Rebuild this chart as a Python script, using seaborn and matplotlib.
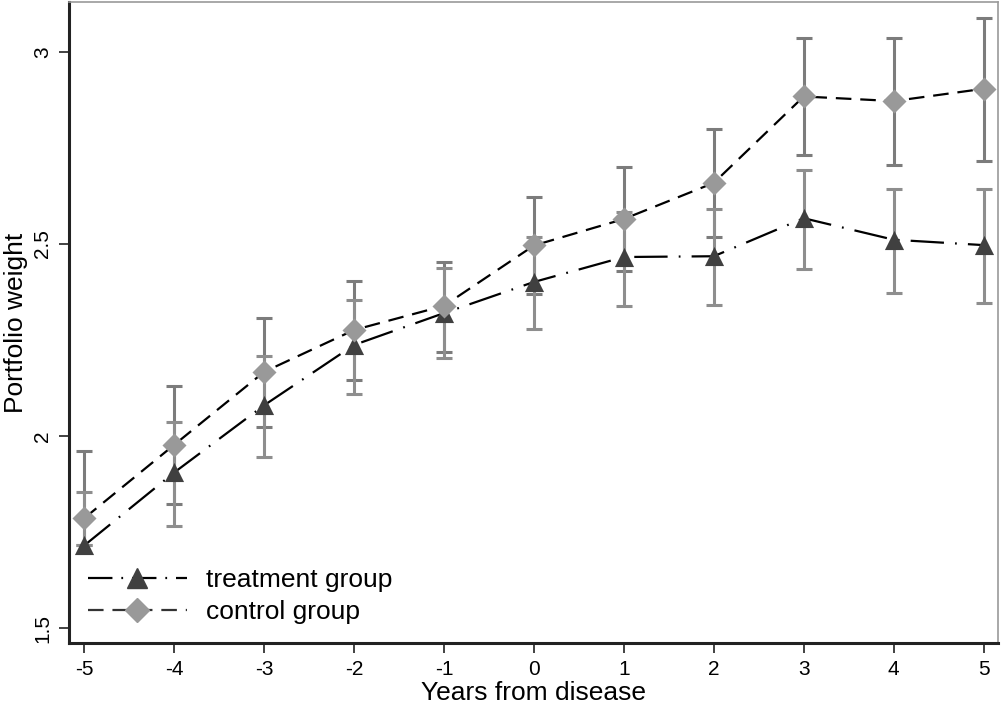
import numpy as np
import pandas as pd
import seaborn as sns
import matplotlib.pyplot as plt
from matplotlib.lines import Line2D

# Values
years = [-5, -4, -3, -2, -1, 0, 1, 2, 3, 4, 5]

treat = [1.715, 1.905, 2.080, 2.237, 2.320, 2.401, 2.466, 2.468, 2.567, 2.511, 2.497]
treat_lo = [1.715, 1.766, 1.945, 2.109, 2.203, 2.279, 2.339, 2.341, 2.435, 2.372, 2.346]
treat_hi = [1.855, 2.036, 2.208, 2.354, 2.438, 2.518, 2.583, 2.591, 2.693, 2.643, 2.643]

ctrl = [1.786, 1.977, 2.167, 2.276, 2.339, 2.496, 2.565, 2.659, 2.884, 2.872, 2.904]
ctrl_lo = [1.715, 1.823, 2.023, 2.146, 2.219, 2.370, 2.430, 2.518, 2.732, 2.706, 2.716]
ctrl_hi = [1.960, 2.130, 2.307, 2.404, 2.453, 2.622, 2.701, 2.800, 3.036, 3.036, 3.089]

labels = ["treatment group", "control group"]
yticks = [1.5, 2, 2.5, 3]

df = pd.DataFrame({"year": years, "treat": treat, "ctrl": ctrl})

sns.set_theme(style="white")
plt.rcParams["font.family"] = ["Liberation Sans", "DejaVu Sans"]
plt.rcParams["text.color"] = "black"
plt.rcParams["axes.labelcolor"] = "black"

fig = plt.figure(figsize=(10.02, 7.13), dpi=100)
ax = fig.add_axes([69 / 1002, 1 - 643 / 713, (998 - 69) / 1002, (643 - 2) / 713])

treat_dash = (15, 5, 0.8, 5)
ctrl_dash = (7, 4)

# confidence intervals
t_arr, c_arr = np.array(treat), np.array(ctrl)
ax.errorbar(years, ctrl, yerr=[c_arr - np.array(ctrl_lo), np.array(ctrl_hi) - c_arr],
            fmt="none", ecolor="#7c7c7c", elinewidth=2.2, capsize=6, capthick=2.2, zorder=1)
ax.errorbar(years, treat, yerr=[t_arr - np.array(treat_lo), np.array(treat_hi) - t_arr],
            fmt="none", ecolor="#8e8e8e", elinewidth=2.2, capsize=6, capthick=2.2, zorder=1)

# connecting lines
sns.lineplot(data=df, x="year", y="treat", color="black", linewidth=1.6, ax=ax, zorder=2)
ax.lines[-1].set_dashes(treat_dash)
sns.lineplot(data=df, x="year", y="ctrl", color="black", linewidth=1.6, ax=ax, zorder=2)
ax.lines[-1].set_dashes(ctrl_dash)

# markers
sns.scatterplot(data=df, x="year", y="treat", marker="^", s=190, color="#404040",
                edgecolor="#404040", linewidth=0, ax=ax, zorder=3)
sns.scatterplot(data=df, x="year", y="ctrl", marker="D", s=150, color="#999999",
                edgecolor="#999999", linewidth=0, ax=ax, zorder=3)

ax.set_xlim(-5.17, 5.16)
ax.set_ylim(1.461, 3.13)
ax.set_xticks(years)
ax.set_xticklabels([str(y) for y in years])
ax.set_yticks(yticks)
ax.set_yticklabels(["1.5", "2", "2.5", "3"], rotation=90, va="center")
ax.tick_params(axis="both", direction="out", length=7, width=1.3, color="#333333",
               labelsize=15, labelcolor="black", pad=5, left=True, bottom=True)

ax.set_xlabel("Years from disease", fontsize=19, labelpad=2)
ax.set_ylabel("Portfolio weight", fontsize=19, labelpad=4)

for side in ["left", "bottom"]:
    ax.spines[side].set_color("#222222")
    ax.spines[side].set_linewidth(2.2)
for side in ["top", "right"]:
    ax.spines[side].set_color("#9a9a9a")
    ax.spines[side].set_linewidth(1.2)

handles = [
    Line2D([], [], color="black", linewidth=1.6, dashes=(11, 4, 0.8, 4), marker="^",
           markersize=14, markerfacecolor="#404040", markeredgecolor="#404040"),
    Line2D([], [], color="#333333", linewidth=1.6, dashes=ctrl_dash, marker="D",
           markersize=12, markerfacecolor="#999999", markeredgecolor="#999999"),
]
ax.legend(handles, labels, loc="lower left", bbox_to_anchor=(0.02, 0.03), frameon=False,
          fontsize=19, handlelength=3.75, handletextpad=0.75, labelspacing=0.3,
          borderpad=0, borderaxespad=0)

fig.savefig("out.png", dpi=100)
